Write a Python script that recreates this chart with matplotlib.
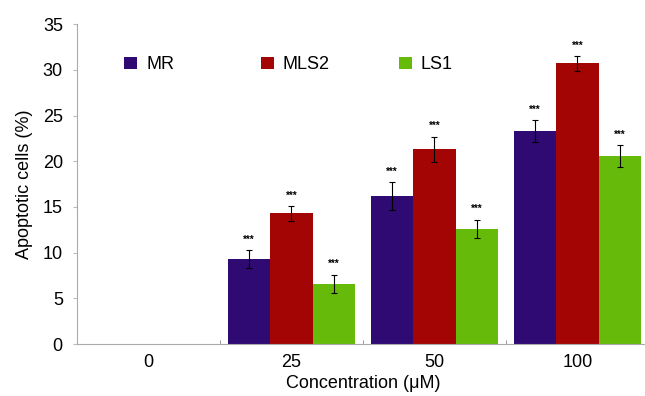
import numpy as np
import matplotlib.pyplot as plt

plt.rcParams['font.family'] = ['Liberation Sans', 'DejaVu Sans']

# data
concentrations = ['0', '25', '50', '100']
series = ['MR', 'MLS2', 'LS1']
mr = [0, 9.3, 16.2, 23.3]
mls2 = [0, 14.3, 21.3, 30.7]
ls1 = [0, 6.6, 12.6, 20.6]
mr_err = [0, 1.0, 1.5, 1.2]
mls2_err = [0, 0.8, 1.4, 0.8]
ls1_err = [0, 1.0, 1.0, 1.2]
sig = ['', '***', '***', '***']

colors = ['#2e0a72', '#a30404', '#66bb0a']

fig = plt.figure(figsize=(6.45, 3.96), dpi=100)
ax = fig.add_axes([0.119, 0.131, 0.887, 0.808])

x = np.arange(len(concentrations))
w = 0.297
vals = [mr, mls2, ls1]
errs = [mr_err, mls2_err, ls1_err]
bars = []
for i in range(3):
    xs = x + (i - 1) * w
    h = vals[i]
    b = ax.bar(xs, h, w, color=colors[i], label=series[i], lw=0)
    bars.append(b)
    for j in range(len(x)):
        if h[j] == 0:
            continue
        ax.errorbar(xs[j], h[j], yerr=errs[i][j], color='black', lw=0.8,
                    capsize=2, capthick=0.8)
        ax.text(xs[j], h[j] + errs[i][j] + 0.6, sig[j], ha='center',
                va='bottom', fontsize=7, fontweight='bold')

ax.set_xlim(-0.5, 3.5)
ax.set_ylim(0, 35)
ax.set_yticks(np.arange(0, 36, 5))
ax.set_xticks(x)
ax.set_xticklabels(concentrations, fontsize=13)
ax.set_xticks([0.5, 1.5, 2.5], minor=True)
ax.tick_params(axis='x', which='major', length=0, pad=7)
ax.tick_params(axis='x', which='minor', length=3, color='#888888', direction='in')
ax.tick_params(axis='y', labelsize=13, length=3, color='#bbbbbb', pad=7)
for s in ['top', 'right']:
    ax.spines[s].set_visible(False)
for s in ['left', 'bottom']:
    ax.spines[s].set_color('#aaaaaa')

ax.set_ylabel('Apoptotic cells (%)', fontsize=13, labelpad=7)
ax.set_xlabel('Concentration (μM)', fontsize=13, labelpad=3)

# one legend per series so the entries sit where they do in the original
leg_x = [0.055, 0.294, 0.535]
for i in range(3):
    lg = ax.legend([bars[i]], [series[i]], loc='upper left',
                   bbox_to_anchor=(leg_x[i], 0.95), frameon=False, fontsize=13,
                   handlelength=0.7, handleheight=0.7, handletextpad=0.5)
    if i < 2:
        ax.add_artist(lg)

plt.savefig('out.png')
